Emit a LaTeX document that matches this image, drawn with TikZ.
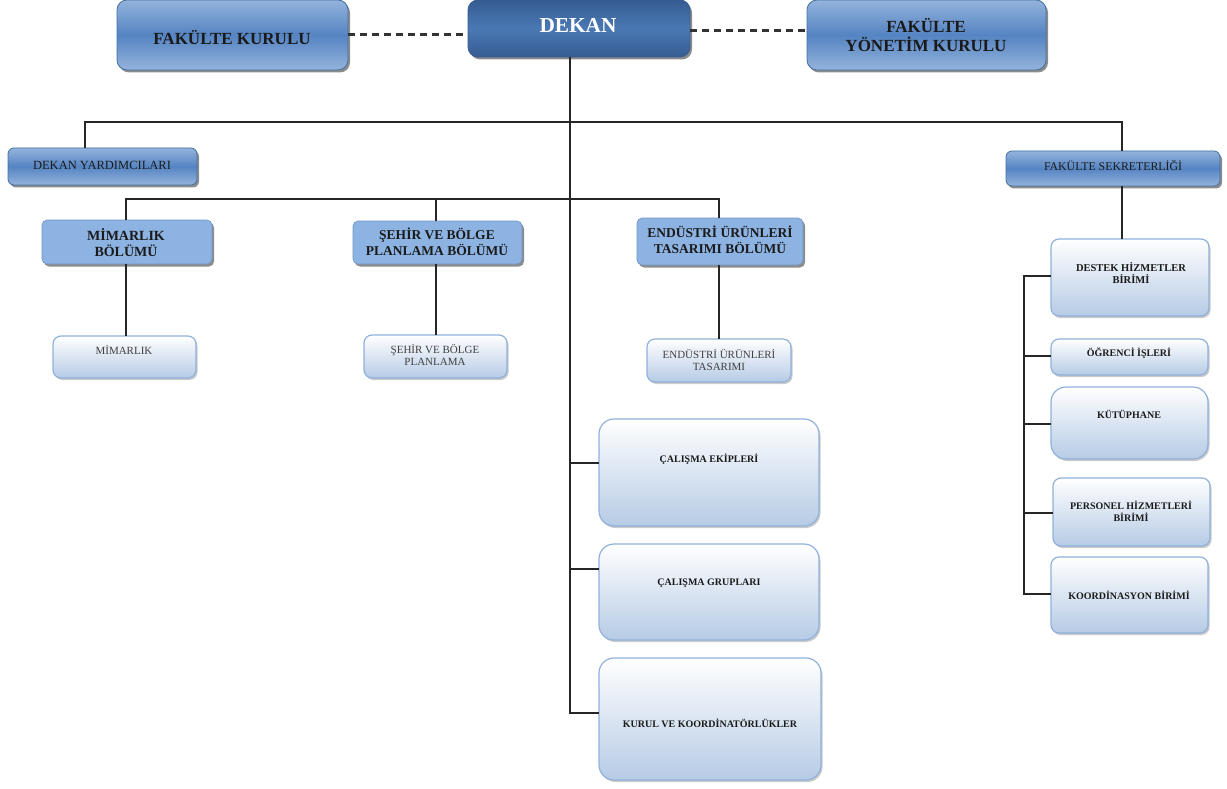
\documentclass[tikz,border=0pt]{standalone}
\usepackage{fontspec}
\setmainfont{Liberation Serif}
\usetikzlibrary{shadows,calc}
\definecolor{gEdge}{HTML}{94B3DC}
\definecolor{gMid}{HTML}{5584C2}
\definecolor{gLine}{HTML}{41709F}
\definecolor{dEdge}{HTML}{365C92}
\definecolor{dMid}{HTML}{4A78B4}
\definecolor{bFill}{HTML}{8DB3E2}
\definecolor{bLine}{HTML}{6F94C4}
\definecolor{lBot}{HTML}{B6CBE5}
\definecolor{lLine}{HTML}{8FB1DA}
\definecolor{txt}{HTML}{1A1A1A}
\newcommand\obox[6]{\node[#6, minimum width={#4-#2}, minimum height={#5-#3}] (#1) at ({(#2+#4)/2},{(#3+#5)/2}) {};}
\newcommand\fs[1]{\fontsize{#1}{\dimexpr #1pt*115/100\relax}\selectfont}
\begin{document}
\begin{tikzpicture}[x=1pt,y=-1pt,
  base/.style={inner sep=0pt, outer sep=0pt, draw},
  shad/.style={drop shadow={shadow xshift=2pt, shadow yshift=-2.5pt, fill=black!60, opacity=0.75}},
  grad/.style={base, shad, rounded corners=10pt, draw=gLine, line width=0.8pt, top color=gEdge, bottom color=gEdge, middle color=gMid},
  dek/.style={base, shad, rounded corners=10pt, draw=dEdge, line width=0.8pt, top color=dEdge, bottom color=dEdge, middle color=dMid},
  gsmall/.style={grad, rounded corners=6pt},
  bol/.style={base, shad, rounded corners=5pt, fill=bFill, draw=bLine, line width=0.6pt},
  lite/.style={base, drop shadow={shadow xshift=1.5pt, shadow yshift=-2pt, fill=black!35, opacity=0.6}, rounded corners=8pt, top color=white, bottom color=lBot, draw=lLine, line width=1.2pt},
  bigl/.style={lite, rounded corners=15pt},
  lbl/.style={inner sep=0pt, align=center, text=txt, font=\bfseries},
  conn/.style={line width=1.5pt, black!85},
  dsh/.style={line width=3pt, black!80, dash pattern=on 7pt off 5pt}
]
\useasboundingbox (0,0) rectangle (1227,789);

% top row
\obox{fk}{117}{0}{348}{70}{grad}
\obox{dekan}{468}{0}{690}{57}{dek}
\obox{fyk}{807}{0}{1046}{70}{grad}
\node[lbl, font=\fs{17}\bfseries] (fkT) at (232,38) {FAKÜLTE KURULU};
\node[lbl, text=white, font=\fs{21.3}\bfseries] (dekT) at (578,25) {DEKAN};
\node[lbl, font=\fs{17}\bfseries] (fykT) at (926,35) {FAKÜLTE\\YÖNETİM KURULU};

% second row
\obox{dy}{8}{148}{197}{185}{gsmall}
\obox{fs}{1006}{151}{1220}{186}{gsmall}
\node[lbl, font=\fs{12.5}] (dyT) at (102,165) {DEKAN YARDIMCILARI};
\node[lbl, font=\fs{11.8}] (fsT) at (1113,166) {FAKÜLTE SEKRETERLİĞİ};

% departments
\obox{mim}{42}{220}{212}{264}{bol}
\obox{seh}{353}{221}{522}{264}{bol}
\obox{end}{637}{218}{803}{265}{bol}
\node[lbl, font=\fontsize{14}{16}\selectfont\bfseries] (mimT) at (126,243) {MİMARLIK\\BÖLÜMÜ};
\node[lbl, font=\fontsize{13.5}{15.5}\selectfont\bfseries] (sehT) at (437,242) {ŞEHİR VE BÖLGE\\PLANLAMA BÖLÜMÜ};
\node[lbl, font=\fontsize{13.5}{15.5}\selectfont\bfseries] (endT) at (720,240) {ENDÜSTRİ ÜRÜNLERİ\\TASARIMI BÖLÜMÜ};

% programmes
\obox{mim2}{53}{336}{196}{378}{lite}
\obox{seh2}{364}{335}{507}{378}{lite}
\obox{end2}{647}{339}{791}{382}{lite}
\node[lbl, font=\fs{11}, text=black!75] (mim2T) at (124,350) {MİMARLIK};
\node[lbl, font=\fs{11}, text=black!75] (seh2T) at (435,355) {ŞEHİR VE BÖLGE\\PLANLAMA};
\node[lbl, font=\fs{11}, text=black!75] (end2T) at (719,360) {ENDÜSTRİ ÜRÜNLERİ\\TASARIMI};

% middle column
\obox{ekip}{599}{419}{819}{526}{bigl}
\obox{grup}{599}{544}{819}{640}{bigl}
\obox{kur}{599}{658}{821}{780}{bigl}
\node[lbl, font=\fs{10}\bfseries] (ekipT) at (709,459) {ÇALIŞMA EKİPLERİ};
\node[lbl, font=\fs{10}\bfseries] (grupT) at (709,583) {ÇALIŞMA GRUPLARI};
\node[lbl, font=\fs{10}\bfseries] (kurT) at (710,723) {KURUL VE KOORDİNATÖRLÜKLER};

% right column
\obox{dest}{1051}{239}{1209}{316}{lite}
\obox{ogr}{1051}{339}{1208}{375}{lite}
\obox{kut}{1051}{387}{1208}{459}{bigl}
\obox{pers}{1053}{478}{1210}{546}{lite}
\obox{koor}{1051}{557}{1208}{633}{lite}
\node[lbl, font=\fs{10.5}\bfseries] (destT) at (1131,273) {DESTEK HİZMETLER\\BİRİMİ};
\node[lbl, font=\fs{10}\bfseries] (ogrT) at (1129,353) {ÖĞRENCİ İŞLERİ};
\node[lbl, font=\fs{10}\bfseries] (kutT) at (1129,414) {KÜTÜPHANE};
\node[lbl, font=\fs{10}\bfseries] (persT) at (1131,511) {PERSONEL HİZMETLERİ\\BİRİMİ};
\node[lbl, font=\fs{10}\bfseries] (koorT) at (1129,595) {KOORDİNASYON BİRİMİ};

% junction coordinates
\coordinate (sp) at (570,713);
\coordinate (hL) at (85,122);
\coordinate (hR) at (1122,122);
\coordinate (mL) at (126,199);
\coordinate (mM) at (436,199);
\coordinate (mR) at (719,199);
\coordinate (rA) at (1024,276);
\coordinate (rB) at (1024,594);
\coordinate (yE) at (0,463);
\coordinate (yG) at (0,569);
\coordinate (yO) at (0,356);
\coordinate (yK) at (0,424);
\coordinate (yP) at (0,513);
\coordinate (yD) at (0,31);

% dashed
\draw[dsh] (fk.east) -- (fk.east -| dekan.west);
\draw[dsh] (dekan.east |- yD) -- (fyk.west |- yD);
% spine
\draw[conn] (dekan.south -| sp) -- (sp) -- (sp -| kur.west);
\draw[conn] (sp |- yE) -- (ekip.west |- yE);
\draw[conn] (sp |- yG) -- (grup.west |- yG);
% horizontal y=122
\draw[conn] (hL |- dy.north) -- (hL) -- (hR) -- (hR |- fs.north);
% department bar
\draw[conn] (mL |- mim.north) -- (mL) -- (mR) -- (mR |- end.north);
\draw[conn] (mM) -- (mM |- seh.north);
\draw[conn] (mL |- mim.south) -- (mL |- mim2.north);
\draw[conn] (mM |- seh.south) -- (mM |- seh2.north);
\draw[conn] (mR |- end.south) -- (mR |- end2.north);
% secretariat
\draw[conn] (hR |- fs.south) -- (hR |- dest.north);
\draw[conn] (rA -| dest.west) -- (rA) -- (rB) -- (rB -| koor.west);
\draw[conn] (rA |- yO) -- (ogr.west |- yO);
\draw[conn] (rA |- yK) -- (kut.west |- yK);
\draw[conn] (rA |- yP) -- (pers.west |- yP);
\end{tikzpicture}
\end{document}
